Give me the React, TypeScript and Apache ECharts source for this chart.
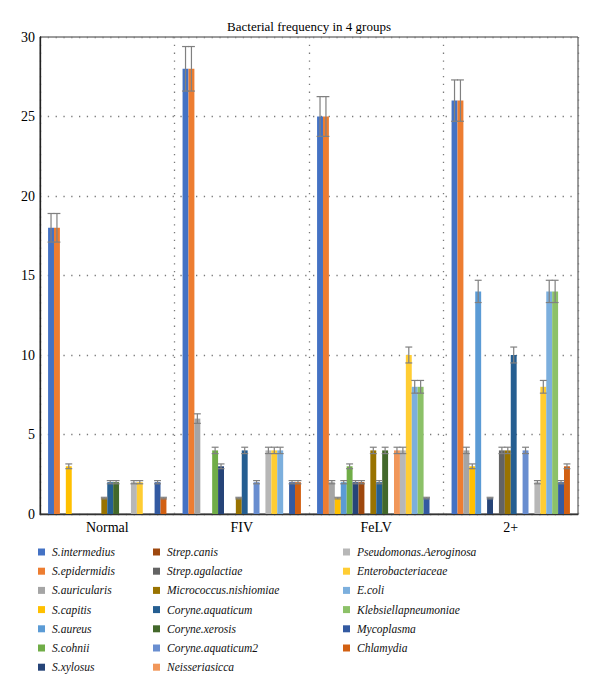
import React, { useEffect, useRef } from "react";
import * as echarts from "echarts";

const categories = ["Normal", "FIV", "FeLV", "2+"];

const bacteria = [
  "S.intermedius", "S.epidermidis", "S.auricularis", "S.capitis", "S.aureus", "S.cohnii", "S.xylosus",
  "Strep.canis", "Strep.agalactiae", "Micrococcus.nishiomiae", "Coryne.aquaticum", "Coryne.xerosis", "Coryne.aquaticum2", "Neisseriasicca",
  "Pseudomonas.Aeroginosa", "Enterobacteriaceae", "E.coli", "Klebsiellapneumoniae", "Mycoplasma", "Chlamydia",
];

const colors = [
  "#4472C4", "#ED7D31", "#A5A5A5", "#FFC000", "#5B9BD5", "#70AD47", "#264478",
  "#9E480E", "#636363", "#997300", "#255E91", "#43682B", "#698ED0", "#F1975A",
  "#B7B7B7", "#FFCD33", "#7CAFDD", "#8CC168", "#335AA1", "#D26012",
];

// counts per group, in the order of `bacteria`
const normalCounts = [18, 18, 0, 3, 0, 0, 0, 0, 0, 1, 2, 2, 0, 0, 2, 2, 0, 0, 2, 1];
const fivCounts = [28, 28, 6, 0, 0, 4, 3, 0, 0, 1, 4, 0, 2, 0, 4, 4, 4, 0, 2, 2];
const felvCounts = [25, 25, 2, 1, 2, 3, 2, 2, 0, 4, 2, 4, 0, 4, 4, 10, 8, 8, 1, 0];
const plusCounts = [26, 26, 4, 3, 14, 0, 1, 0, 4, 4, 10, 0, 4, 0, 2, 8, 14, 14, 2, 3];

const groupCounts = [normalCounts, fivCounts, felvCounts, plusCounts];

// Percentage error bars (Excel style, 5%)
const ERROR_PCT = 0.05;
const yTicks = { min: 0, max: 30, interval: 5 };

const legendColumns = [bacteria.slice(0, 7), bacteria.slice(7, 14), bacteria.slice(14, 20)];
const legendLefts = [38, 153, 343];

const CAT_GAP = 0.12;
const FONT = "Liberation Serif";

export default function App() {
  const ref = useRef<HTMLDivElement>(null);

  useEffect(() => {
    if (!ref.current) return;
    const chart = echarts.init(ref.current, undefined, { renderer: "svg" });
    const nSeries = bacteria.length;

    const barSeries = bacteria.map((name, i) => ({
      name,
      type: "bar",
      data: groupCounts.map((g) => g[i]),
      itemStyle: { color: colors[i] },
      barGap: "0%",
      barCategoryGap: `${CAT_GAP * 100}%`,
      emphasis: { disabled: true },
    }));

    const errData: number[][] = [];
    groupCounts.forEach((g, ci) => {
      g.forEach((v, si) => {
        if (v > 0) errData.push([ci, si, v]);
      });
    });

    const errSeries = {
      type: "custom",
      name: "__err",
      data: errData,
      encode: { x: 0, y: 2 },
      z: 5,
      silent: true,
      renderItem: (params: any, api: any) => {
        const ci = api.value(0);
        const si = api.value(1);
        const v = api.value(2);
        const c = api.coord([ci, v]);
        const band = api.size([1, 0])[0];
        const bw = (band * (1 - CAT_GAP)) / nSeries;
        const x = c[0] + (si - (nSeries - 1) / 2) * bw;
        const hi = api.coord([ci, v * (1 + ERROR_PCT)])[1];
        const lo = api.coord([ci, v * (1 - ERROR_PCT)])[1];
        const half = (bw + 1) / 2;
        const style = { stroke: "#808080", lineWidth: 1.2 };
        return {
          type: "group",
          children: [
            { type: "line", shape: { x1: x, y1: hi, x2: x, y2: lo }, style },
            { type: "line", shape: { x1: x - half, y1: hi, x2: x + half, y2: hi }, style },
            { type: "line", shape: { x1: x - half, y1: lo, x2: x + half, y2: lo }, style },
          ],
        };
      },
    };

    const dotted = { color: "#7a7a7a", width: 1.3, type: [1.3, 6.5] };

    chart.setOption({
      animation: false,
      color: colors,
      textStyle: { fontFamily: FONT },
      title: {
        text: "Bacterial frequency in 4 groups",
        left: 309,
        textAlign: "center",
        top: 20,
        padding: 0,
        textStyle: { fontFamily: FONT, fontSize: 13, fontWeight: "normal", color: "#000" },
      },
      grid: {
        left: 40,
        right: 22,
        top: 37,
        bottom: 181,
        show: true,
        borderColor: "#3a3a3a",
        borderWidth: 1,
        backgroundColor: "transparent",
      },
      legend: legendColumns.map((col, k) => ({
        data: col,
        orient: "vertical",
        left: legendLefts[k],
        top: 545,
        padding: 0,
        itemWidth: 7,
        itemHeight: 7,
        itemGap: 5.2,
        icon: "rect",
        selectedMode: false,
        textStyle: {
          fontFamily: FONT,
          fontSize: 11.5,
          fontStyle: "italic",
          color: "#111",
          lineHeight: 14,
          padding: [0, 0, 0, 2],
        },
      })),
      xAxis: {
        type: "category",
        data: categories,
        axisLine: { show: true, lineStyle: { color: "#333", width: 1.3 } },
        axisTick: { show: false },
        axisLabel: { fontFamily: FONT, fontSize: 14, color: "#000", margin: 6 },
        splitLine: { show: true, lineStyle: dotted },
      },
      yAxis: {
        type: "value",
        min: yTicks.min,
        max: yTicks.max,
        interval: yTicks.interval,
        axisLine: { show: true, lineStyle: { color: "#222", width: 1.3 } },
        axisTick: { show: false },
        axisLabel: { fontFamily: FONT, fontSize: 14, color: "#000", margin: 5 },
        splitLine: { show: true, lineStyle: dotted },
      },
      series: [...barSeries, errSeries],
    });

    return () => chart.dispose();
  }, []);

  return (
    <div
      ref={ref}
      style={{ position: "fixed", left: 0, top: 0, width: 600, height: 695, background: "#fff" }}
    />
  );
}
